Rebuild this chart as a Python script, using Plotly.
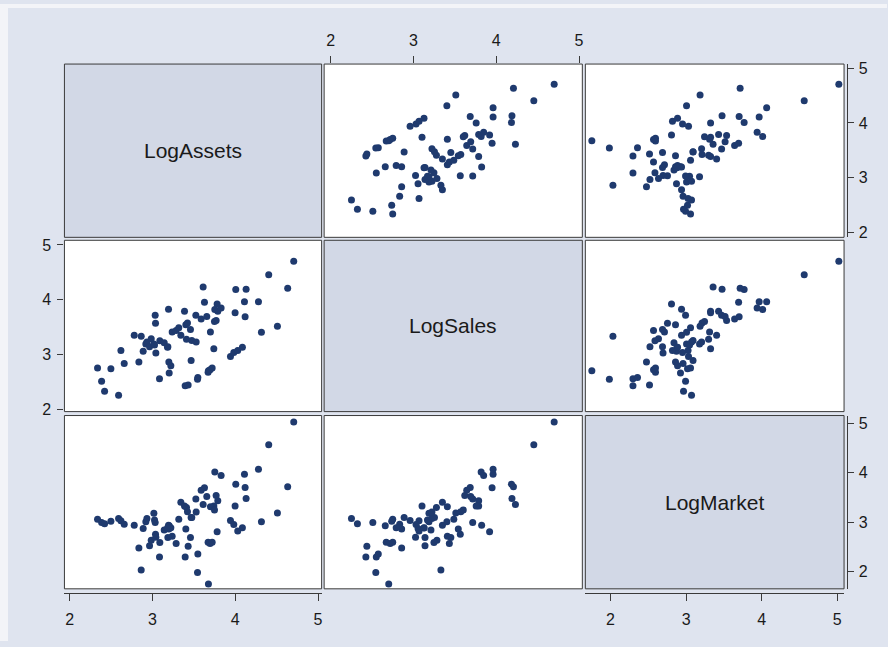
import plotly.graph_objects as go

# ---- data -------------------------------------------------------------
var_names = ["LogAssets", "LogSales", "LogMarket"]

log_assets = [2.337, 2.386, 2.422, 2.498, 2.591, 2.619, 2.659, 2.780, 2.836, 2.864,
              2.888, 2.920, 2.933, 2.985, 2.965, 3.017, 3.025, 3.033, 3.037, 3.041,
              3.085, 3.089, 3.194, 3.198, 3.202, 3.222, 3.238, 3.142, 3.182, 3.186,
              3.286, 3.395, 3.431, 3.343, 3.789, 3.467, 3.459, 3.403, 3.423, 3.318,
              3.411, 3.475, 3.387, 3.524, 3.528, 3.548, 3.544, 3.588, 3.612, 3.628,
              3.672, 3.676, 3.696, 3.721, 3.753, 3.829, 3.781, 3.769, 3.656, 3.741,
              3.700, 3.749, 3.942, 3.982, 4.030, 4.086, 3.998, 4.006, 4.131, 4.119,
              4.111, 4.280, 4.316, 4.404, 4.509, 4.633, 4.706]

log_sales = [2.750, 2.510, 2.324, 2.738, 2.252, 3.068, 2.834, 3.350, 2.858, 3.332,
             3.056, 3.188, 3.224, 3.284, 3.140, 3.188, 3.170, 3.716, 3.566, 3.026,
             2.552, 3.248, 3.824, 2.858, 2.660, 2.792, 3.410, 3.212, 3.128, 3.140,
             3.434, 2.426, 2.438, 3.350, 3.788, 2.888, 3.452, 3.542, 3.572, 3.488,
             3.278, 3.254, 3.788, 3.716, 3.224, 2.576, 2.546, 3.644, 4.232, 3.950,
             2.672, 2.702, 2.720, 2.750, 3.818, 3.848, 3.920, 3.620, 3.692, 3.104,
             3.410, 3.602, 2.960, 3.032, 3.068, 3.128, 3.758, 4.184, 4.190, 3.686,
             3.962, 3.962, 3.404, 4.454, 3.512, 4.208, 4.700]

log_market = [3.059, 2.993, 2.966, 3.019, 3.072, 3.026, 2.960, 2.940, 2.476, 2.032,
              2.873, 3.006, 3.072, 2.635, 2.522, 3.178, 3.046, 2.993, 2.754, 2.695,
              2.297, 2.588, 2.940, 2.860, 2.926, 2.887, 2.714, 2.840, 2.880, 2.688,
              2.569, 2.297, 2.516, 3.404, 3.430, 3.092, 2.688, 2.860, 3.211, 3.059,
              3.298, 3.092, 3.324, 3.470, 3.205, 2.357, 1.985, 3.642, 3.357, 3.695,
              2.595, 1.753, 2.569, 2.595, 4.013, 3.940, 2.807, 3.536, 3.516, 3.324,
              3.311, 3.244, 3.032, 2.953, 2.820, 2.887, 3.324, 3.768, 3.476, 3.702,
              3.967, 4.066, 3.006, 4.563, 3.185, 3.715, 5.021]

tick_vals = [2, 3, 4, 5]
tick_text = ["2", "3", "4", "5"]

# ---- layout geometry (pixels) ----------------------------------------
W, H = 888, 647
col_px = [(64.5, 322.0), (324.5, 583.0), (586.0, 845.0)]
row_px = [(61.0, 237.0), (240.0, 414.0), (418.0, 594.0)]
x_ranges = [[1.937, 5.043], [1.922, 5.040], [1.667, 5.090]]
y_ranges = [[1.910, 5.076], [1.953, 5.085], [1.654, 5.153]]

BG_OUTER = "#F3F4F8"
BG_INNER = "#DFE4EF"
DIAG_FILL = "#D2D8E6"
DOT = "#1F3A6E"
LINE = "#3A3A3A"
FONT = "Liberation Sans, Arial, sans-serif"
TICKFONT = dict(family=FONT, size=16, color="#1a1a1a")

data_vars = [log_assets, log_sales, log_market]

fig = go.Figure()
layout = {}
shapes = []
annotations = []

# which cell carries which visible axis: (side, axis-line position px, label standoff)
x_tick_cells = {(0, 1): ("top", None, 4), (2, 0): ("bottom", 598.5, 5),
                (2, 2): ("bottom", 598.5, 5)}
y_tick_cells = {(0, 2): ("right", 847.5, 2), (1, 0): ("left", None, 3),
                (2, 2): ("right", 847.5, 2)}

for i in range(3):
    for j in range(3):
        k = i * 3 + j + 1
        xa = "x" if k == 1 else f"x{k}"
        ya = "y" if k == 1 else f"y{k}"
        xname = "xaxis" if k == 1 else f"xaxis{k}"
        yname = "yaxis" if k == 1 else f"yaxis{k}"

        xinfo = x_tick_cells.get((i, j))
        yinfo = y_tick_cells.get((i, j))

        xa_def = dict(
            domain=[col_px[j][0] / W, col_px[j][1] / W],
            range=x_ranges[j], anchor=ya,
            showgrid=False, zeroline=False, showline=False,
            tickvals=[], ticks="", showticklabels=False,
            fixedrange=True,
        )
        if xinfo:
            side, pos, standoff = xinfo
            xa_def.update(tickvals=tick_vals, ticktext=tick_text, ticks="outside",
                          ticklen=7, tickwidth=1, tickcolor=LINE,
                          showticklabels=True, side=side, tickfont=TICKFONT,
                          ticklabelstandoff=standoff)
            if pos is not None:
                xa_def.update(anchor="free", position=1 - pos / H,
                              showline=True, linecolor=LINE, linewidth=1)
        layout[xname] = xa_def

        ya_def = dict(
            domain=[1 - row_px[i][1] / H, 1 - row_px[i][0] / H],
            range=y_ranges[i], anchor=xa,
            showgrid=False, zeroline=False, showline=False,
            tickvals=[], ticks="", showticklabels=False,
            fixedrange=True,
        )
        if yinfo:
            side, pos, standoff = yinfo
            ya_def.update(tickvals=tick_vals, ticktext=tick_text, ticks="outside",
                          ticklen=6, tickwidth=1, tickcolor=LINE,
                          showticklabels=True, side=side, tickfont=TICKFONT,
                          ticklabelstandoff=standoff)
            if pos is not None:
                ya_def.update(anchor="free", position=pos / W,
                              showline=True, linecolor=LINE, linewidth=1)
        layout[yname] = ya_def

        if i == j:
            fig.add_trace(go.Scatter(x=[None], y=[None], xaxis=xa, yaxis=ya,
                                     mode="markers", showlegend=False,
                                     hoverinfo="skip"))
            shapes.append(dict(type="rect", xref=f"{xa} domain", yref=f"{ya} domain",
                               x0=0, x1=1, y0=0, y1=1, fillcolor=DIAG_FILL,
                               line=dict(width=0), layer="below"))
            annotations.append(dict(text=var_names[i], xref=f"{xa} domain",
                                    yref=f"{ya} domain", x=0.5, y=0.5,
                                    showarrow=False,
                                    font=dict(family=FONT, size=21, color="#1a1a1a")))
        else:
            fig.add_trace(go.Scatter(
                x=data_vars[j], y=data_vars[i], xaxis=xa, yaxis=ya,
                mode="markers", showlegend=False,
                marker=dict(size=7, color=DOT, line=dict(width=0)),
                hovertemplate=f"{var_names[j]}=%{{x}}<br>{var_names[i]}=%{{y}}<extra></extra>",
            ))

        # cell frame
        shapes.append(dict(type="rect", xref="paper", yref="paper",
                           x0=col_px[j][0] / W, x1=col_px[j][1] / W,
                           y0=1 - row_px[i][1] / H, y1=1 - row_px[i][0] / H,
                           line=dict(color=LINE, width=1), fillcolor="rgba(0,0,0,0)",
                           layer="above"))

# lighter outer strip (left and top edges of the image)
shapes.insert(0, dict(type="rect", xref="paper", yref="paper",
                      x0=0, x1=8 / W, y0=0, y1=1,
                      fillcolor=BG_OUTER, line=dict(width=0), layer="below"))
shapes.insert(0, dict(type="rect", xref="paper", yref="paper",
                      x0=0, x1=1, y0=1 - 4 / H, y1=1,
                      fillcolor=BG_OUTER, line=dict(width=0), layer="below"))

fig.update_layout(
    **layout,
    width=W, height=H,
    margin=dict(l=0, r=0, t=0, b=0),
    paper_bgcolor=BG_INNER, plot_bgcolor="white",
    shapes=shapes, annotations=annotations,
    showlegend=False,
    font=dict(family=FONT, size=16, color="#1a1a1a"),
)

fig.write_html("out.html")
